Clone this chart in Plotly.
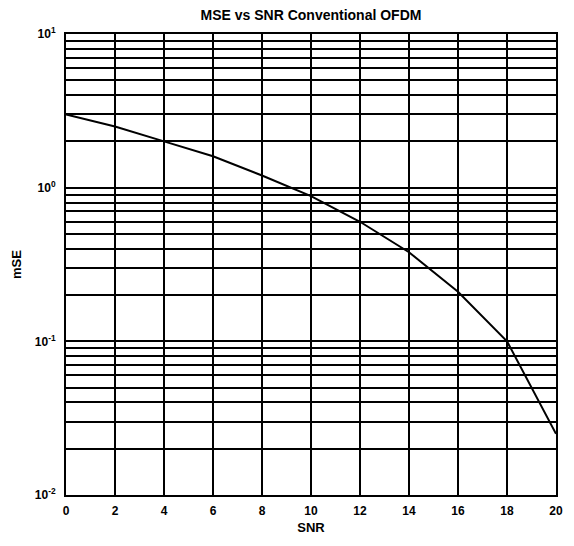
import plotly.graph_objects as go

snr = [0, 2, 4, 6, 8, 10, 12, 14, 16, 18, 20]
mse = [3.0, 2.5, 2.0, 1.6, 1.2, 0.88, 0.6, 0.38, 0.21, 0.1, 0.025]

x_ticks = [0, 2, 4, 6, 8, 10, 12, 14, 16, 18, 20]
decades = [0.01, 0.1, 1, 10]
decade_labels = ["10<sup>-2</sup>", "10<sup>-1</sup>", "10<sup>0</sup>", "10<sup>1</sup>"]
minor_mult = [2, 3, 4, 5, 6, 7, 8, 9]

minor_vals = [m * d for d in decades[:-1] for m in minor_mult]

fig = go.Figure()
fig.add_trace(go.Scatter(x=snr, y=mse, mode="lines",
                         line=dict(color="black", width=2), showlegend=False))

family = "Liberation Sans, Arial, sans-serif"
tickfont = dict(family=family, size=12, color="black")
labfont = dict(family=family, size=13, color="black")

fig.update_layout(
    width=566, height=538,
    margin=dict(l=58, r=18, t=26, b=51),
    paper_bgcolor="white", plot_bgcolor="white",
    title=dict(text="<b>MSE vs SNR Conventional OFDM</b>", x=0.5, xanchor="center",
               xref="paper", yref="container", y=1 - 7 / 538, yanchor="middle",
               font=dict(family=family, size=14, color="black")),
    xaxis=dict(range=[0, 20], tickvals=x_ticks, ticktext=[f"<b>{v}</b>" for v in x_ticks],
               showgrid=True, gridcolor="black", gridwidth=2,
               showline=True, linecolor="black", linewidth=2, mirror=True,
               zeroline=False, ticks="", tickfont=tickfont, ticklabelstandoff=4,
               automargin=False,
               title=dict(text="<b>SNR</b>", font=labfont, standoff=5)),
    yaxis=dict(type="log", range=[-2, 1], tickvals=decades,
               ticktext=[f"<b>{t}</b>" for t in decade_labels],
               showgrid=True, gridcolor="black", gridwidth=2,
               minor=dict(tickvals=minor_vals, showgrid=True, gridcolor="black",
                          gridwidth=2, ticks=""),
               showline=True, linecolor="black", linewidth=2, mirror=True,
               zeroline=False, ticks="", tickfont=tickfont, ticklabelstandoff=6,
               automargin=False,
               title=dict(text="<b>mSE</b>", font=labfont, standoff=10)),
)

fig.write_html("out.html")
